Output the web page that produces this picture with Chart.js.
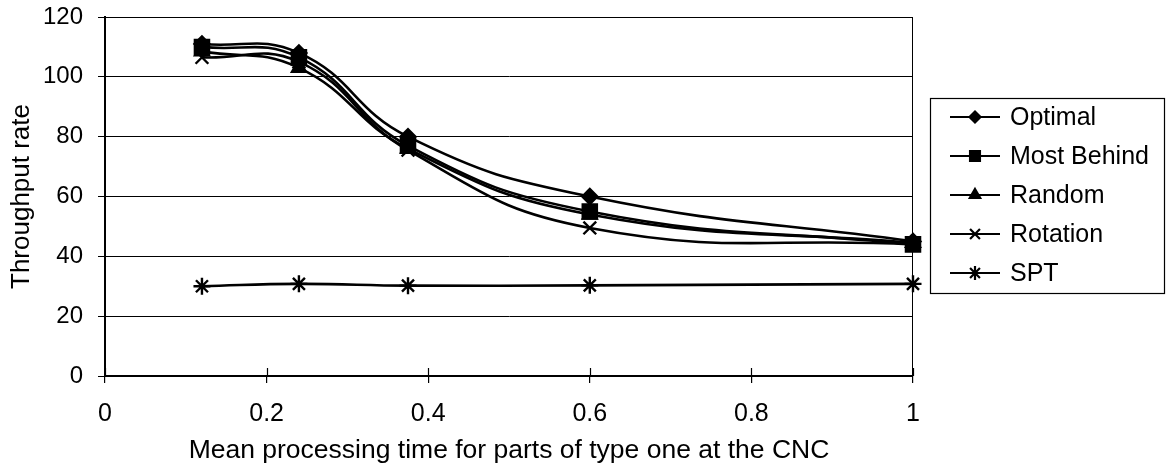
<!DOCTYPE html>
<html>
<head>
<meta charset="utf-8">
<title>Throughput rate</title>
<script src="https://cdn.jsdelivr.net/npm/chart.js@4/dist/chart.umd.min.js"></script>
<style>
  html, body { margin: 0; padding: 0; background: #fff; }
  #wrap { width: 1168px; height: 473px; }
</style>
</head>
<body>
<div id="wrap"><canvas id="throughputChart" width="1168" height="473"></canvas></div>
<script>
// values
const meanTimes = [0.12, 0.24, 0.375, 0.6, 1];
const optimal = [111, 108, 80, 60, 45];
const mostBehind = [110, 106.5, 77, 55, 44];
const randomRule = [108.5, 103, 76, 54, 44.5];
const rotation = [106.5, 105, 75.5, 49.5, 44];
const spt = [30, 30.8, 30.2, 30.3, 30.8];

const seriesNames = ['Optimal', 'Most Behind', 'Random', 'Rotation', 'SPT'];
const seriesValues = [optimal, mostBehind, randomRule, rotation, spt];
const markerStyles = ['rectRot', 'rect', 'triangle', 'crossRot', 'star'];

const xTitle = 'Mean processing time for parts of type one at the CNC';
const yTitle = 'Throughput rate';

const FONT = '"Liberation Sans", Arial, Helvetica, sans-serif';

// marker radius on the plot, per point style
const plotRadius = { rectRot: 7.5, rect: 10, triangle: 8, crossRot: 9, star: 8.5 };
// marker radius inside the legend
const legendRadius = { rectRot: 5.5, rect: 7, triangle: 6, crossRot: 7, star: 7 };

const datasets = seriesNames.map((name, i) => ({
    label: name,
    data: meanTimes.map((t, j) => ({ x: t, y: seriesValues[i][j] })),
    borderColor: '#000',
    backgroundColor: '#000',
    borderWidth: 2.6,
    tension: 0.45,
    pointStyle: markerStyles[i],
    pointRadius: plotRadius[markerStyles[i]],
    pointBorderWidth: 2.4,
    pointBorderColor: '#000',
    pointBackgroundColor: '#000',
    clip: false
}));

// plot frame, crossing x ticks and the boxed legend on the right
const frameAndLegend = {
    id: 'frameAndLegend',
    afterDraw(chart) {
        const { ctx, chartArea: a } = chart;
        const xScale = chart.scales.x;
        ctx.save();
        ctx.strokeStyle = '#000';
        ctx.lineWidth = 1;
        ctx.strokeRect(a.left + 0.5, a.top + 0.5, a.right - a.left - 1, a.bottom - a.top);

        ctx.lineWidth = 1.2;
        xScale.ticks.forEach(t => {
            const px = Math.round(xScale.getPixelForValue(t.value)) + 0.5;
            ctx.beginPath();
            ctx.moveTo(px, a.bottom - 8);
            ctx.lineTo(px, a.bottom);
            ctx.stroke();
        });

        // legend
        const box = { left: 930, top: 98, right: 1164, bottom: 293 };
        ctx.lineWidth = 1.2;
        ctx.strokeRect(box.left + 0.5, box.top + 0.5, box.right - box.left, box.bottom - box.top);
        const step = 39;
        const firstY = 117;
        ctx.font = '25px ' + FONT;
        ctx.textAlign = 'left';
        ctx.textBaseline = 'middle';
        chart.data.datasets.forEach((ds, i) => {
            const y = firstY + i * step;
            ctx.strokeStyle = '#000';
            ctx.fillStyle = '#000';
            ctx.lineWidth = 2.2;
            ctx.beginPath();
            ctx.moveTo(950, y);
            ctx.lineTo(1000, y);
            ctx.stroke();
            Chart.helpers.drawPoint(ctx, {
                pointStyle: ds.pointStyle,
                radius: legendRadius[ds.pointStyle],
                rotation: 0,
                borderWidth: 2.2
            }, 975, y);
            ctx.fillStyle = '#000';
            ctx.fillText(ds.label, 1010, y + 1);
        });
        ctx.restore();
    }
};

const ctx = document.getElementById('throughputChart').getContext('2d');
const throughputChart = new Chart(ctx, {
    type: 'line',
    data: { datasets: datasets },
    options: {
        responsive: false,
        animation: false,
        devicePixelRatio: 1,
        layout: { padding: { left: 0, top: 17, right: 255, bottom: 0 } },
        plugins: {
            legend: { display: false },
            tooltip: { enabled: false }
        },
        scales: {
            x: {
                type: 'linear',
                min: 0,
                max: 1,
                afterFit(scale) {
                    scale.height = 97;
                    scale.paddingLeft = 0;
                    scale.paddingRight = 0;
                },
                ticks: {
                    stepSize: 0.2,
                    padding: 16,
                    color: '#000',
                    font: { family: FONT, size: 25 },
                    maxRotation: 0,
                    callback: v => String(Math.round(v * 10) / 10)
                },
                grid: {
                    drawOnChartArea: false,
                    drawTicks: true,
                    tickLength: 7,
                    color: '#000',
                    lineWidth: 1.2
                },
                border: { color: '#000', width: 2 },
                title: {
                    display: true,
                    text: xTitle,
                    color: '#000',
                    font: { family: FONT, size: 26.5 },
                    padding: { top: 4, bottom: 6 }
                }
            },
            y: {
                min: 0,
                max: 120,
                afterFit(scale) {
                    scale.width = 105;
                    scale.paddingTop = 0;
                    scale.paddingBottom = 0;
                },
                ticks: {
                    stepSize: 20,
                    padding: 15,
                    color: '#000',
                    font: { family: FONT, size: 24 }
                },
                grid: {
                    color: '#000',
                    lineWidth: 1,
                    drawTicks: true,
                    tickLength: 7
                },
                border: { color: '#000', width: 2 },
                title: {
                    display: true,
                    text: yTitle,
                    color: '#000',
                    font: { family: FONT, size: 26 },
                    padding: { top: 6, bottom: 4 }
                }
            }
        }
    },
    plugins: [frameAndLegend]
});
</script>
</body>
</html>
